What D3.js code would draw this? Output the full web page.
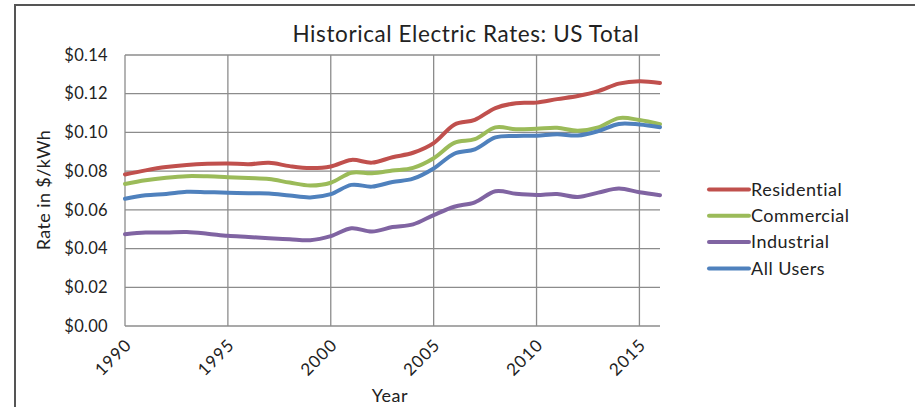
<!DOCTYPE html>
<html lang="en">
<head>
<meta charset="UTF-8">
<title>Historical Electric Rates: US Total</title>
<style>
  body { margin: 0; background: #fff; }
  svg { display: block; font-family: "Lato", "DejaVu Sans", sans-serif; }
  .grid line { stroke: #8c8c8c; stroke-width: 1.3; }
  .series { fill: none; stroke-width: 4; stroke-linecap: round; stroke-linejoin: round; }
</style>
</head>
<body>
<div id="chart"></div>
<script src="https://d3js.org/d3.v7.min.js"></script>
<script>
// data, $/kWh
const years = d3.range(1990, 2017);
const residential = [0.0783, 0.0804, 0.0821, 0.0832, 0.0838, 0.0840, 0.0836, 0.0843, 0.0826, 0.0816, 0.0824, 0.0858, 0.0844, 0.0872, 0.0895, 0.0945, 0.1040, 0.1065, 0.1126, 0.1151, 0.1154, 0.1172, 0.1188, 0.1213, 0.1252, 0.1265, 0.1255];
const commercial = [0.0734, 0.0753, 0.0766, 0.0774, 0.0773, 0.0769, 0.0764, 0.0759, 0.0741, 0.0726, 0.0740, 0.0792, 0.0789, 0.0803, 0.0817, 0.0867, 0.0946, 0.0965, 0.1026, 0.1016, 0.1019, 0.1024, 0.1009, 0.1026, 0.1074, 0.1064, 0.1043];
const industrial = [0.0474, 0.0483, 0.0483, 0.0485, 0.0477, 0.0466, 0.0460, 0.0453, 0.0448, 0.0443, 0.0464, 0.0505, 0.0488, 0.0511, 0.0525, 0.0573, 0.0616, 0.0639, 0.0696, 0.0683, 0.0677, 0.0682, 0.0667, 0.0689, 0.0710, 0.0691, 0.0676];
const allUsers = [0.0657, 0.0675, 0.0682, 0.0693, 0.0691, 0.0689, 0.0686, 0.0685, 0.0674, 0.0664, 0.0681, 0.0729, 0.0720, 0.0744, 0.0761, 0.0814, 0.0890, 0.0913, 0.0974, 0.0982, 0.0983, 0.0990, 0.0984, 0.1007, 0.1044, 0.1041, 0.1027];
const seriesNames = ["Residential", "Commercial", "Industrial", "All Users"];
const seriesColors = ["#c0504d", "#9bbb59", "#8064a2", "#4f81bd"];
const xTicks = [1990, 1995, 2000, 2005, 2010, 2015];
const yTicks = [0, 0.02, 0.04, 0.06, 0.08, 0.10, 0.12, 0.14];

const series = [residential, commercial, industrial, allUsers].map((vals, i) => ({
  name: seriesNames[i],
  color: seriesColors[i],
  values: vals.map((v, j) => ({ year: years[j], v }))
}));

const width = 915, height = 407;
const plot = { left: 125, right: 660, top: 55, bottom: 326 };

const svg = d3.select('#chart').append('svg')
  .attr('width', width).attr('height', height);

// outer chart border (runs off the right and bottom edges)
svg.append('path')
  .attr('d', `M15,${height + 5} V5 H${width + 5}`)
  .attr('fill', 'none').attr('stroke', '#555').attr('stroke-width', 2);

const x = d3.scaleLinear().domain([1990, 2016]).range([plot.left, plot.right]);
const y = d3.scaleLinear().domain([0, 0.14]).range([plot.bottom, plot.top]);

// gridlines
const grid = svg.append('g').attr('class', 'grid');
grid.selectAll('.h').data(yTicks).enter().append('line')
  .attr('x1', plot.left).attr('x2', plot.right)
  .attr('y1', d => y(d)).attr('y2', d => y(d));
grid.selectAll('.v').data(xTicks).enter().append('line')
  .attr('x1', d => x(d)).attr('x2', d => x(d))
  .attr('y1', plot.top).attr('y2', plot.bottom);

// y axis labels
const yAxis = svg.append('g')
  .attr('transform', `translate(${plot.left},0)`)
  .call(d3.axisLeft(y).tickValues(yTicks).tickSize(0).tickPadding(17).tickFormat(d3.format('$.2f')));
yAxis.select('.domain').remove();
yAxis.selectAll('text').attr('font-size', 16.5).attr('fill', '#222')
  .attr('font-family', 'Lato, sans-serif').attr('letter-spacing', 0.3);

// x axis labels, rotated
const xAxis = svg.append('g')
  .attr('transform', `translate(0,${plot.bottom})`)
  .call(d3.axisBottom(x).tickValues(xTicks).tickSize(0).tickFormat(d3.format('d')));
xAxis.select('.domain').remove();
xAxis.selectAll('text')
  .attr('font-size', 17).attr('fill', '#222').attr('font-family', 'Lato, sans-serif')
  .attr('letter-spacing', 1)
  .attr('text-anchor', 'end').attr('dy', null)
  .attr('transform', 'translate(5,18) rotate(-45)');

// series lines
const line = d3.line()
  .x(d => x(d.year)).y(d => y(d.v))
  .curve(d3.curveCatmullRom.alpha(0));

svg.selectAll('.series').data(series).enter().append('path')
  .attr('class', 'series')
  .attr('stroke', d => d.color)
  .attr('d', d => line(d.values));

// titles
svg.append('text').attr('x', 466).attr('y', 42).attr('text-anchor', 'middle')
  .attr('font-size', 22.5).attr('letter-spacing', 0.6).attr('fill', '#222')
  .text('Historical Electric Rates: US Total');
svg.append('text').attr('transform', 'translate(50,190) rotate(-90)').attr('text-anchor', 'middle')
  .attr('font-size', 18).attr('letter-spacing', 0.4).attr('fill', '#222').text('Rate in $/kWh');
svg.append('text').attr('x', 390).attr('y', 402).attr('text-anchor', 'middle')
  .attr('font-size', 18).attr('letter-spacing', 0.5).attr('fill', '#222').text('Year');

// legend
const legend = svg.append('g').selectAll('g').data(series).enter().append('g')
  .attr('transform', (d, i) => `translate(709,${189.5 + i * 26.3})`);
legend.append('line').attr('x1', 0).attr('x2', 40)
  .attr('stroke', d => d.color).attr('stroke-width', 4).attr('stroke-linecap', 'round');
legend.append('text').attr('x', 42).attr('dy', '0.35em')
  .attr('font-size', 18).attr('letter-spacing', 0.5).attr('fill', '#222').text(d => d.name);
</script>
</body>
</html>
